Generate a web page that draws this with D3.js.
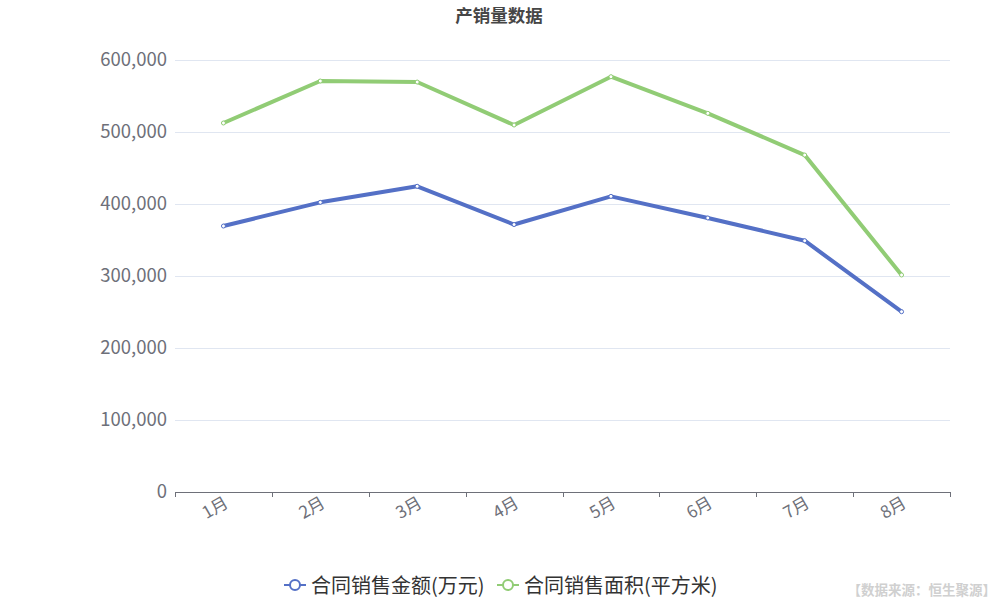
<!DOCTYPE html>
<html><head><meta charset="utf-8">
<script src="https://cdn.jsdelivr.net/npm/d3@7"></script>
<style>body{margin:0;background:#fff;}svg{display:block;font-family:"Noto Sans CJK SC","Noto Sans",sans-serif;}</style>
</head><body><svg id="c" width="1000" height="600"></svg>
<script>
const categories = ["1月","2月","3月","4月","5月","6月","7月","8月"];
const seriesNames = ["合同销售金额(万元)","合同销售面积(平方米)"];
const amountValues = [369400, 402300, 424600, 371500, 410600, 380600, 349000, 250400];
const areaValues = [512500, 570800, 569400, 509700, 576800, 525900, 468000, 301400];
const yTicks = [0, 100000, 200000, 300000, 400000, 500000, 600000];
const colors = ["#5470c6", "#91cc75"];

const svg = d3.select("#c");
const mLeft = 175, mRight = 950, mTop = 60, mBottom = 492;
const x = d3.scaleBand().domain(categories).range([mLeft, mRight]);
const y = d3.scaleLinear().domain([0, 600000]).range([mBottom, mTop]);

// title
svg.append("text").attr("x", 499).attr("y", 16).attr("dy", "0.35em").attr("text-anchor", "middle")
  .attr("font-size", 17.5).attr("font-weight", "bold").attr("fill", "#464646").text("产销量数据");

// grid
svg.append("g").selectAll("line").data(yTicks.slice(1)).join("line")
  .attr("x1", mLeft).attr("x2", mRight).attr("y1", d => y(d)).attr("y2", d => y(d))
  .attr("stroke", "#e0e6f1").attr("stroke-width", 1).attr("shape-rendering", "crispEdges");

// y labels
svg.append("g").selectAll("text").data(yTicks).join("text")
  .attr("x", 167).attr("y", d => y(d)).attr("dy", "0.35em").attr("text-anchor", "end")
  .attr("font-size", 18.5).attr("fill", "#6e7079").text(d => d3.format(",")(d));

// x axis
const xa = svg.append("g");
xa.append("line").attr("x1", mLeft).attr("x2", mRight).attr("y1", mBottom + 0.5).attr("y2", mBottom + 0.5)
  .attr("stroke", "#6e7079");
const bounds = categories.map(c => x(c)).concat([mRight]);
xa.selectAll("line.t").data(bounds).join("line").attr("class", "t")
  .attr("x1", d => Math.round(d) + 0.5).attr("x2", d => Math.round(d) + 0.5)
  .attr("y1", mBottom).attr("y2", mBottom + 5).attr("stroke", "#6e7079");
xa.selectAll("text").data(categories).join("text")
  .attr("transform", d => `translate(${x(d) + x.bandwidth() / 2 + 3},${mBottom + 9}) rotate(-30)`)
  .attr("text-anchor", "end").attr("dy", "0.35em").attr("font-size", 17).attr("fill", "#6e7079").text(d => d);

// lines
const data = [amountValues, areaValues];
const line = d3.line().x((d, i) => x(categories[i]) + x.bandwidth() / 2).y(d => y(d));
data.forEach((vals, si) => {
  svg.append("path").datum(vals).attr("d", line).attr("fill", "none")
    .attr("stroke", colors[si]).attr("stroke-width", 4).attr("stroke-linejoin", "bevel");
  svg.append("g").selectAll("circle").data(vals).join("circle")
    .attr("cx", (d, i) => x(categories[i]) + x.bandwidth() / 2).attr("cy", d => y(d)).attr("r", 2)
    .attr("fill", "#fff").attr("stroke", colors[si]).attr("stroke-width", 1);
});

// legend
const legX = [284, 497];
seriesNames.forEach((n, i) => {
  const g = svg.append("g").attr("transform", `translate(${legX[i]},585)`);
  g.append("line").attr("x1", 0).attr("x2", 22).attr("y1", 0).attr("y2", 0).attr("stroke", colors[i]).attr("stroke-width", 2);
  g.append("circle").attr("cx", 11).attr("cy", 0).attr("r", 5).attr("fill", "#fff").attr("stroke", colors[i]).attr("stroke-width", 2);
  g.append("text").attr("x", 27).attr("y", 1).attr("dy", "0.35em").attr("font-size", 20).attr("fill", "#333").text(n);
});

// source
svg.append("text").attr("x", 996).attr("y", 590).attr("dy", "0.35em").attr("text-anchor", "end")
  .attr("font-size", 13.5).attr("font-weight", "bold").attr("fill", "#d0d0d0").text("【数据来源：恒生聚源】");
</script></body></html>
